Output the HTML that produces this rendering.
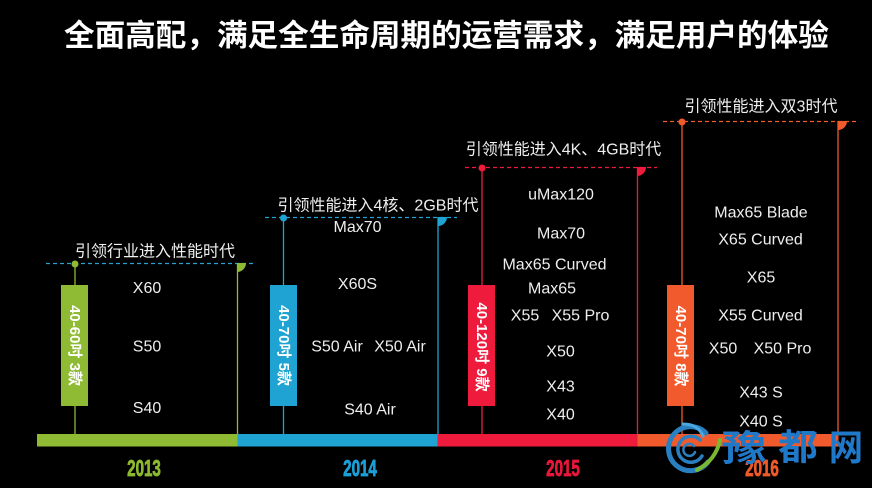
<!DOCTYPE html>
<html>
<head>
<meta charset="utf-8">
<style>
html,body{margin:0;padding:0;background:#000;}
svg{display:block;}
text{font-family:"Liberation Sans","Noto Sans CJK SC",sans-serif;}
</style>
</head>
<body>
<svg width="872" height="488" viewBox="0 0 872 488" xmlns="http://www.w3.org/2000/svg">
<rect width="872" height="488" fill="#000"/>

<!-- Title -->
<text x="64" y="36" font-size="30.6" font-weight="bold" fill="#ffffff" dominant-baseline="central">全面高配，满足全生命周期的运营需求，满足用户的体验</text>

<!-- ===== 2013 green ===== -->
<text x="155" y="252" font-size="16" fill="#eeeeee" text-anchor="middle" dominant-baseline="central">引领行业进入性能时代</text>
<line x1="46" y1="263.5" x2="253" y2="263.5" stroke="#2a9fd0" stroke-width="1.2" stroke-dasharray="4 3"/>
<line x1="75" y1="263" x2="75" y2="434" stroke="#8fba33" stroke-width="1.3"/>
<line x1="237.5" y1="263" x2="237.5" y2="434" stroke="#8fba33" stroke-width="1.3"/>
<circle cx="75" cy="264" r="3.5" fill="#8fba33"/>
<path d="M237 263 L246 263 A9 9 0 0 1 237 272 Z" fill="#8fba33"/>
<rect x="61" y="285" width="27" height="121" fill="#8fba33"/>
<text transform="translate(74.5,345.5) rotate(90)" font-size="15" font-weight="bold" fill="#fff" text-anchor="middle" dominant-baseline="central">40-60吋 3款</text>
<g font-size="16" fill="#eeeeee" text-anchor="middle" dominant-baseline="central">
<text x="147" y="288.5">X60</text>
<text x="147" y="347">S50</text>
<text x="147" y="408.5">S40</text>
</g>

<!-- ===== 2014 blue ===== -->
<text x="378" y="206" font-size="16" fill="#eeeeee" text-anchor="middle" dominant-baseline="central">引领性能进入4核、2GB时代</text>
<line x1="265" y1="217.5" x2="457" y2="217.5" stroke="#1ea3d2" stroke-width="1.2" stroke-dasharray="4 3"/>
<line x1="283.5" y1="217" x2="283.5" y2="434" stroke="#1ea3d2" stroke-width="1.3"/>
<line x1="438" y1="217" x2="438" y2="434" stroke="#1ea3d2" stroke-width="1.3"/>
<circle cx="283.5" cy="218" r="3.5" fill="#1ea3d2"/>
<path d="M438 217 L447 217 A9 9 0 0 1 438 226 Z" fill="#1ea3d2"/>
<rect x="270" y="285" width="27" height="121" fill="#1ea3d2"/>
<text transform="translate(283.5,345.5) rotate(90)" font-size="15" font-weight="bold" fill="#fff" text-anchor="middle" dominant-baseline="central">40-70吋 5款</text>
<g font-size="16" fill="#eeeeee" text-anchor="middle" dominant-baseline="central">
<text x="357.5" y="227.5">Max70</text>
<text x="357.5" y="284.5">X60S</text>
<text x="337" y="347">S50 Air</text>
<text x="400" y="347">X50 Air</text>
<text x="370" y="410">S40 Air</text>
</g>

<!-- ===== 2015 red ===== -->
<text x="563.5" y="150" font-size="16" fill="#eeeeee" text-anchor="middle" dominant-baseline="central">引领性能进入4K、4GB时代</text>
<line x1="465" y1="167.5" x2="657" y2="167.5" stroke="#ef1b3c" stroke-width="1.2" stroke-dasharray="4 3"/>
<line x1="482" y1="167" x2="482" y2="434" stroke="#ef1b3c" stroke-width="1.3"/>
<line x1="637.5" y1="167" x2="637.5" y2="434" stroke="#ef1b3c" stroke-width="1.3"/>
<circle cx="482" cy="168" r="3.5" fill="#ef1b3c"/>
<path d="M637 167 L646 167 A9 9 0 0 1 637 176 Z" fill="#ef1b3c"/>
<rect x="468" y="285" width="27" height="121" fill="#ef1b3c"/>
<text transform="translate(481.5,347) rotate(90)" font-size="15" font-weight="bold" fill="#fff" text-anchor="middle" dominant-baseline="central">40-120吋 9款</text>
<g font-size="16" fill="#eeeeee" text-anchor="middle" dominant-baseline="central">
<text x="561" y="195">uMax120</text>
<text x="561" y="234">Max70</text>
<text x="554.5" y="265">Max65 Curved</text>
<text x="552" y="289">Max65</text>
<text x="525" y="316">X55</text>
<text x="580.5" y="316">X55 Pro</text>
<text x="560.5" y="352">X50</text>
<text x="560.5" y="387">X43</text>
<text x="560.5" y="415">X40</text>
</g>

<!-- ===== 2016 orange ===== -->
<text x="761" y="107" font-size="16" fill="#eeeeee" text-anchor="middle" dominant-baseline="central">引领性能进入双3时代</text>
<line x1="663" y1="121.5" x2="857" y2="121.5" stroke="#f15a2c" stroke-width="1.2" stroke-dasharray="4 3"/>
<line x1="682" y1="121" x2="682" y2="434" stroke="#f15a2c" stroke-width="1.3"/>
<line x1="838" y1="121" x2="838" y2="434" stroke="#f15a2c" stroke-width="1.3"/>
<circle cx="682" cy="122" r="3.5" fill="#f15a2c"/>
<path d="M838 121 L847 121 A9 9 0 0 1 838 130 Z" fill="#f15a2c"/>
<rect x="667" y="285" width="27" height="121" fill="#f15a2c"/>
<text transform="translate(680.5,346) rotate(90)" font-size="15" font-weight="bold" fill="#fff" text-anchor="middle" dominant-baseline="central">40-70吋 8款</text>
<g font-size="16" fill="#eeeeee" text-anchor="middle" dominant-baseline="central">
<text x="761" y="213">Max65 Blade</text>
<text x="760.5" y="240">X65 Curved</text>
<text x="761" y="278">X65</text>
<text x="760.5" y="316">X55 Curved</text>
<text x="723" y="349">X50</text>
<text x="782.5" y="349">X50 Pro</text>
<text x="761" y="393">X43 S</text>
<text x="761" y="422">X40 S</text>
</g>

<!-- Timeline bar -->
<rect x="37" y="434" width="200.5" height="12.5" fill="#8fba33"/>
<rect x="237.5" y="434" width="200" height="12.5" fill="#1ea3d2"/>
<rect x="437.5" y="434" width="200" height="12.5" fill="#ef1b3c"/>
<rect x="637.5" y="434" width="201" height="12.5" fill="#f15a2c"/>

<!-- Years -->
<g font-size="23" font-weight="bold" text-anchor="middle" dominant-baseline="central" stroke-width="0.8">
<text transform="translate(144,469) scale(0.66,1)" fill="#8db92f" stroke="#8db92f">2013</text>
<text transform="translate(360,469) scale(0.66,1)" fill="#1a9fd8" stroke="#1a9fd8">2014</text>
<text transform="translate(563,469) scale(0.66,1)" fill="#e8173a" stroke="#e8173a">2015</text>
<text transform="translate(762,469) scale(0.66,1)" fill="#f05a28" stroke="#f05a28">2016</text>
</g>

<!-- Watermark logo -->
<g fill="none" stroke-linecap="round">
<path d="M706 433 A22 22 0 1 0 708 462" stroke="#2a7fc0" stroke-width="5"/>
<path d="M700 440 A13 13 0 1 0 702 456" stroke="#2a7fc0" stroke-width="3.5"/>
<path d="M694 446 A6 6 0 1 0 695 452" stroke="#2a7fc0" stroke-width="2.5"/>
<path d="M697 470 Q716 460 720 440" stroke="#7ab830" stroke-width="4"/>
<path d="M683 424 Q698 424 703 436" stroke="#4aa8e0" stroke-width="3"/>
</g>
<g font-size="36" font-weight="bold" fill="#1f78c8" text-anchor="middle" dominant-baseline="central">
<text transform="translate(744,448) scale(1.25,1)">豫</text>
<text transform="translate(798,448) scale(1.1,1)">都</text>
<text transform="translate(846,448) scale(0.95,1)">网</text>
</g>
</svg>
</body>
</html>
